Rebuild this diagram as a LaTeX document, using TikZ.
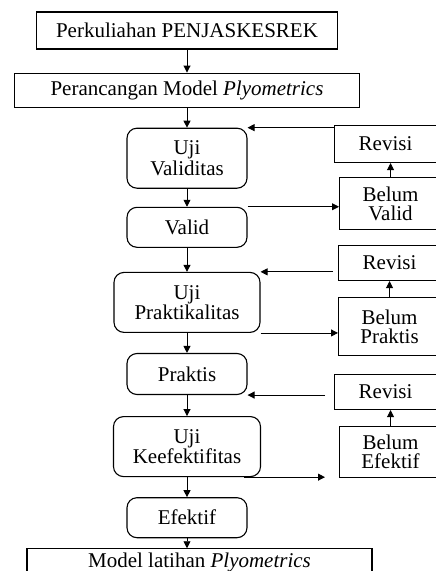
\documentclass[tikz,border=0pt]{standalone}
\usepackage{fontspec}
\setmainfont{Liberation Serif}
\usetikzlibrary{positioning,arrows.meta}

\begin{document}
\begin{tikzpicture}[x=1pt,y=-1pt,node distance=20pt,->,>={Triangle[length=7pt,width=7pt]},line width=0.9pt]

  \tikzstyle{every node}=[font=\fontsize{21pt}{19pt}\selectfont]
  \tikzstyle{mainbox}=[rectangle,draw,line width=1.1pt,inner sep=2pt]
  \tikzstyle{testbox}=[rectangle,draw,rounded corners=10pt,line width=1.1pt,align=center,minimum width=120pt,inner sep=2pt]
  \tikzstyle{sidebox}=[rectangle,draw,line width=1.1pt,align=center,text width=102pt,inner xsep=0pt,anchor=north west]

  \useasboundingbox (0,0) rectangle (436,571);

  \node[mainbox,minimum width=301pt,minimum height=37pt] (kuliah) at (187,30.5) {Perkuliahan PENJASKESREK};
  \node[mainbox,minimum width=345pt,minimum height=34pt] (rancang) [below=23pt of kuliah] {Perancangan Model \textit{Plyometrics}};
  \node[testbox,minimum height=60pt] (ujival) [below=20pt of rancang] {Uji\\Validitas};
  \node[testbox,minimum height=40pt] (valid) [below=18pt of ujival] {Valid};
  \node[testbox,minimum width=146pt,minimum height=60pt] (ujiprak) [below=24pt of valid] {Uji\\Praktikalitas};
  \node[testbox,minimum height=41pt] (praktis) [below=20pt of ujiprak] {Praktis};
  \node[testbox,minimum width=147pt,minimum height=60pt] (ujiefek) [below=21pt of praktis] {Uji\\Keefektifitas};
  \node[testbox,minimum height=40pt] (efektif) [below=20pt of ujiefek] {Efektif};
  \node[mainbox,minimum width=345pt,text height=17pt,text depth=16pt] (model) [below=10pt of efektif,xshift=12.5pt] {Model latihan \textit{Plyometrics}};

  \node[sidebox,minimum height=37pt] (revval) at (334,125) {Revisi};
  \node[sidebox,minimum height=52pt] (belumval) at (339,177) {Belum\\Valid};
  \node[sidebox,minimum height=35pt] (revprak) at (338,245) {Revisi};
  \node[sidebox,minimum height=58pt] (belumprak) at (338,297) {Belum\\Praktis};
  \node[sidebox,minimum height=35pt] (revefek) at (334,374) {Revisi};
  \node[sidebox,minimum height=51pt] (belumefek) at (339,426) {Belum\\Efektif};

  \draw (kuliah) -- (rancang);
  \draw (rancang) -- (ujival);
  \draw (ujival) -- (valid);
  \draw (valid) -- (ujiprak);
  \draw (ujiprak) -- (praktis);
  \draw (praktis) -- (ujiefek);
  \draw (ujiefek) -- (efektif);
  \draw (efektif) -- (efektif |- model.north);

  \draw (ujival.north east -| revval.west) -- (ujival.north east);
  \draw (valid.north east) -- (valid.north east -| belumval.west);
  \draw (belumval.north) -- (belumval.north |- revval.south);

  \draw[shorten <=5pt] (ujiprak.north east -| revprak.west) -- (ujiprak.north east);
  \draw (ujiprak.south east) -- (ujiprak.south east -| belumprak.west);
  \draw (belumprak.north) -- (belumprak.north |- revprak.south);

  \draw[shorten <=9pt] (praktis.south east -| revefek.west) -- (praktis.south east);
  \draw[shorten >=14pt] ([xshift=-17pt]ujiefek.south east) -- (ujiefek.south east -| belumefek.west);
  \draw (belumefek.north) -- (belumefek.north |- revefek.south);

\end{tikzpicture}
\end{document}
